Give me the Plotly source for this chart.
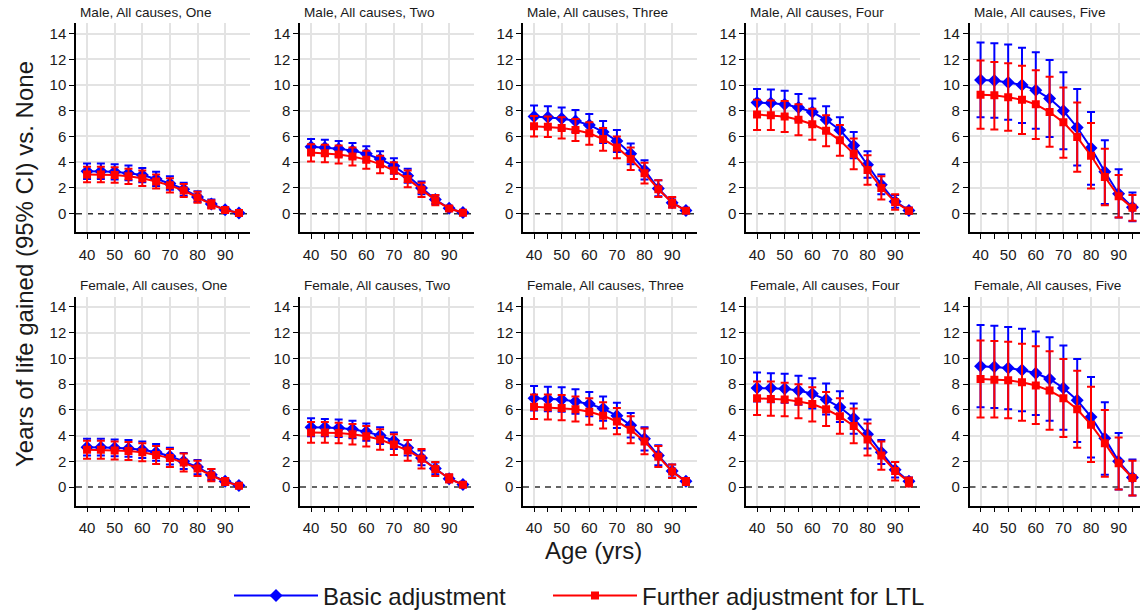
import plotly.graph_objects as go
from plotly.subplots import make_subplots

ages = [40, 45, 50, 55, 60, 65, 70, 75, 80, 85, 90, 95]
x_ticks = [40, 50, 60, 70, 80, 90]
y_ticks = [0, 2, 4, 6, 8, 10, 12, 14]
y_grid = [2, 4, 6, 8, 10, 12, 14]
panel_titles = [
    "Male, All causes, One", "Male, All causes, Two", "Male, All causes, Three",
    "Male, All causes, Four", "Male, All causes, Five",
    "Female, All causes, One", "Female, All causes, Two", "Female, All causes, Three",
    "Female, All causes, Four", "Female, All causes, Five",
]
series_names = ["Basic adjustment", "Further adjustment for LTL"]

# ---- Male ----
m1_basic = [3.3, 3.3, 3.25, 3.15, 3.0, 2.7, 2.35, 1.9, 1.3, 0.75, 0.3, 0.05]
m1_basic_lo = [2.7, 2.7, 2.65, 2.6, 2.45, 2.15, 1.85, 1.4, 0.9, 0.45, 0.15, 0.0]
m1_basic_hi = [3.9, 3.9, 3.85, 3.75, 3.55, 3.25, 2.9, 2.4, 1.75, 1.1, 0.5, 0.12]
m1_ltl = [3.05, 3.05, 3.0, 2.9, 2.75, 2.5, 2.2, 1.8, 1.25, 0.72, 0.28, 0.05]
m1_ltl_lo = [2.45, 2.45, 2.4, 2.3, 2.15, 1.95, 1.65, 1.3, 0.85, 0.4, 0.1, 0.0]
m1_ltl_hi = [3.65, 3.65, 3.6, 3.5, 3.35, 3.05, 2.75, 2.3, 1.7, 1.05, 0.45, 0.1]

m2_basic = [5.2, 5.15, 5.05, 4.9, 4.65, 4.25, 3.7, 2.95, 2.0, 1.1, 0.42, 0.08]
m2_basic_lo = [4.6, 4.55, 4.45, 4.3, 4.05, 3.65, 3.1, 2.4, 1.5, 0.75, 0.25, 0.02]
m2_basic_hi = [5.8, 5.75, 5.65, 5.5, 5.25, 4.85, 4.3, 3.5, 2.5, 1.45, 0.6, 0.15]
m2_ltl = [4.75, 4.7, 4.6, 4.45, 4.2, 3.85, 3.35, 2.7, 1.85, 1.05, 0.4, 0.07]
m2_ltl_lo = [4.05, 4.0, 3.9, 3.75, 3.5, 3.15, 2.7, 2.05, 1.3, 0.65, 0.2, 0.02]
m2_ltl_hi = [5.4, 5.35, 5.3, 5.15, 4.9, 4.5, 4.0, 3.35, 2.4, 1.45, 0.6, 0.12]

m3_basic = [7.55, 7.5, 7.4, 7.2, 6.9, 6.35, 5.65, 4.65, 3.4, 1.95, 0.85, 0.25]
m3_basic_lo = [6.7, 6.65, 6.55, 6.35, 6.05, 5.5, 4.8, 3.85, 2.65, 1.35, 0.5, 0.1]
m3_basic_hi = [8.4, 8.35, 8.25, 8.05, 7.75, 7.2, 6.5, 5.45, 4.15, 2.6, 1.25, 0.4]
m3_ltl = [6.8, 6.75, 6.65, 6.5, 6.25, 5.8, 5.15, 4.25, 3.15, 1.9, 0.85, 0.22]
m3_ltl_lo = [6.0, 5.95, 5.85, 5.65, 5.35, 4.9, 4.3, 3.4, 2.35, 1.3, 0.45, 0.08]
m3_ltl_hi = [7.6, 7.55, 7.5, 7.35, 7.1, 6.65, 6.0, 5.15, 3.95, 2.6, 1.3, 0.4]

m4_basic = [8.65, 8.6, 8.5, 8.25, 7.9, 7.3, 6.5, 5.3, 3.8, 2.25, 0.95, 0.25]
m4_basic_lo = [7.65, 7.6, 7.5, 7.25, 6.9, 6.3, 5.5, 4.3, 2.8, 1.5, 0.45, 0.05]
m4_basic_hi = [9.7, 9.65, 9.55, 9.3, 8.95, 8.35, 7.5, 6.35, 4.85, 3.05, 1.45, 0.45]
m4_ltl = [7.7, 7.65, 7.55, 7.3, 6.95, 6.45, 5.7, 4.65, 3.4, 2.0, 0.9, 0.22]
m4_ltl_lo = [6.5, 6.5, 6.35, 6.1, 5.75, 5.25, 4.5, 3.45, 2.25, 1.1, 0.3, 0.02]
m4_ltl_hi = [8.85, 8.8, 8.75, 8.5, 8.15, 7.65, 6.9, 5.85, 4.55, 2.9, 1.5, 0.45]

m5_basic = [10.4, 10.35, 10.2, 10.0, 9.6, 8.95, 8.0, 6.7, 5.1, 3.25, 1.55, 0.5]
m5_basic_lo = [7.5, 7.45, 7.3, 7.05, 6.6, 5.95, 5.0, 3.75, 2.25, 0.75, -0.3, -0.6]
m5_basic_hi = [13.3, 13.25, 13.15, 12.9, 12.55, 11.95, 11.0, 9.7, 7.9, 5.7, 3.45, 1.65]
m5_ltl = [9.25, 9.2, 9.05, 8.85, 8.5, 7.9, 7.1, 5.95, 4.5, 2.85, 1.35, 0.45]
m5_ltl_lo = [6.6, 6.55, 6.45, 6.2, 5.8, 5.2, 4.35, 3.25, 1.95, 0.65, -0.3, -0.55]
m5_ltl_hi = [11.9, 11.8, 11.7, 11.5, 11.15, 10.65, 9.8, 8.65, 7.05, 5.05, 3.0, 1.45]

# ---- Female ----
f1_basic = [3.1, 3.1, 3.05, 3.0, 2.9, 2.7, 2.4, 2.0, 1.55, 0.95, 0.45, 0.12]
f1_basic_lo = [2.45, 2.45, 2.4, 2.35, 2.25, 2.05, 1.75, 1.4, 1.0, 0.55, 0.2, 0.02]
f1_basic_hi = [3.75, 3.75, 3.7, 3.65, 3.55, 3.35, 3.05, 2.65, 2.1, 1.4, 0.7, 0.25]
f1_ltl = [2.9, 2.9, 2.85, 2.8, 2.7, 2.5, 2.25, 1.9, 1.45, 0.9, 0.42, 0.1]
f1_ltl_lo = [2.2, 2.2, 2.15, 2.1, 2.0, 1.8, 1.55, 1.2, 0.85, 0.45, 0.15, 0.0]
f1_ltl_hi = [3.6, 3.6, 3.55, 3.5, 3.4, 3.2, 2.95, 2.6, 2.05, 1.4, 0.7, 0.22]

f2_basic = [4.65, 4.65, 4.6, 4.5, 4.3, 4.0, 3.6, 3.05, 2.25, 1.45, 0.65, 0.2]
f2_basic_lo = [3.95, 3.95, 3.9, 3.8, 3.6, 3.35, 2.95, 2.45, 1.7, 1.0, 0.4, 0.05]
f2_basic_hi = [5.35, 5.3, 5.25, 5.15, 4.95, 4.65, 4.25, 3.65, 2.85, 1.9, 0.95, 0.35]
f2_ltl = [4.25, 4.25, 4.2, 4.1, 3.95, 3.7, 3.3, 2.85, 2.2, 1.4, 0.65, 0.18]
f2_ltl_lo = [3.45, 3.45, 3.4, 3.3, 3.15, 2.9, 2.5, 2.05, 1.45, 0.85, 0.35, 0.02]
f2_ltl_hi = [5.05, 5.05, 5.0, 4.9, 4.75, 4.5, 4.1, 3.65, 2.95, 1.95, 1.0, 0.35]

f3_basic = [6.9, 6.85, 6.8, 6.65, 6.45, 6.1, 5.55, 4.8, 3.75, 2.45, 1.25, 0.45]
f3_basic_lo = [5.95, 5.9, 5.85, 5.7, 5.5, 5.15, 4.6, 3.85, 2.85, 1.7, 0.75, 0.2]
f3_basic_hi = [7.85, 7.8, 7.75, 7.6, 7.4, 7.05, 6.55, 5.75, 4.65, 3.25, 1.75, 0.7]
f3_ltl = [6.25, 6.2, 6.15, 6.05, 5.85, 5.55, 5.1, 4.45, 3.55, 2.35, 1.2, 0.4]
f3_ltl_lo = [5.3, 5.25, 5.2, 5.1, 4.85, 4.55, 4.1, 3.4, 2.55, 1.55, 0.7, 0.15]
f3_ltl_hi = [7.2, 7.2, 7.15, 7.05, 6.9, 6.6, 6.15, 5.5, 4.55, 3.2, 1.75, 0.7]

f4_basic = [7.7, 7.7, 7.65, 7.5, 7.25, 6.8, 6.2, 5.35, 4.1, 2.7, 1.35, 0.45]
f4_basic_lo = [6.65, 6.6, 6.55, 6.4, 6.1, 5.65, 5.05, 4.15, 3.0, 1.8, 0.75, 0.15]
f4_basic_hi = [8.9, 8.85, 8.8, 8.65, 8.45, 8.05, 7.45, 6.5, 5.25, 3.65, 1.95, 0.75]
f4_ltl = [6.9, 6.85, 6.8, 6.65, 6.45, 6.05, 5.5, 4.75, 3.7, 2.45, 1.25, 0.4]
f4_ltl_lo = [5.6, 5.55, 5.5, 5.35, 5.1, 4.75, 4.15, 3.4, 2.45, 1.35, 0.5, 0.05]
f4_ltl_hi = [8.2, 8.2, 8.1, 8.0, 7.75, 7.4, 6.9, 6.1, 4.95, 3.55, 1.95, 0.75]

f5_basic = [9.4, 9.35, 9.25, 9.1, 8.85, 8.4, 7.7, 6.75, 5.45, 3.8, 2.0, 0.75]
f5_basic_lo = [6.2, 6.15, 6.05, 5.9, 5.6, 5.15, 4.45, 3.5, 2.3, 0.95, -0.2, -0.65]
f5_basic_hi = [12.6, 12.55, 12.45, 12.3, 12.1, 11.65, 11.0, 9.95, 8.55, 6.6, 4.2, 2.15]
f5_ltl = [8.4, 8.35, 8.3, 8.15, 7.9, 7.5, 6.9, 6.05, 4.85, 3.4, 1.85, 0.7]
f5_ltl_lo = [5.4, 5.4, 5.35, 5.15, 4.9, 4.45, 3.9, 3.05, 1.95, 0.8, -0.2, -0.65]
f5_ltl_hi = [11.4, 11.35, 11.3, 11.15, 10.95, 10.55, 9.95, 9.05, 7.8, 6.0, 3.85, 2.05]

panels = [
    (m1_basic, m1_basic_lo, m1_basic_hi, m1_ltl, m1_ltl_lo, m1_ltl_hi),
    (m2_basic, m2_basic_lo, m2_basic_hi, m2_ltl, m2_ltl_lo, m2_ltl_hi),
    (m3_basic, m3_basic_lo, m3_basic_hi, m3_ltl, m3_ltl_lo, m3_ltl_hi),
    (m4_basic, m4_basic_lo, m4_basic_hi, m4_ltl, m4_ltl_lo, m4_ltl_hi),
    (m5_basic, m5_basic_lo, m5_basic_hi, m5_ltl, m5_ltl_lo, m5_ltl_hi),
    (f1_basic, f1_basic_lo, f1_basic_hi, f1_ltl, f1_ltl_lo, f1_ltl_hi),
    (f2_basic, f2_basic_lo, f2_basic_hi, f2_ltl, f2_ltl_lo, f2_ltl_hi),
    (f3_basic, f3_basic_lo, f3_basic_hi, f3_ltl, f3_ltl_lo, f3_ltl_hi),
    (f4_basic, f4_basic_lo, f4_basic_hi, f4_ltl, f4_ltl_lo, f4_ltl_hi),
    (f5_basic, f5_basic_lo, f5_basic_hi, f5_ltl, f5_ltl_lo, f5_ltl_hi),
]

W, H = 1140, 614
FONT = "Arial, 'Liberation Sans', sans-serif"
BLUE = "#0000FF"
RED = "#FF0000"
TXT = "#1a1a1a"
GRID = "#e3e3e3"

# layout geometry (pixels)
col_left = [76, 300, 523, 746, 969.5]
panel_w = 174
row_top = [23.3, 296.7]
panel_h = 209
x_range = [36, 99]
y_range = [-1.45, 14.8]

fig = make_subplots(rows=2, cols=5)

for idx, (b, blo, bhi, r, rlo, rhi) in enumerate(panels):
    row = idx // 5 + 1
    col = idx % 5 + 1
    for vals, lo, hi, color, sym, msize, name, leg in [
        (b, blo, bhi, BLUE, "diamond", 10, series_names[0], "legend"),
        (r, rlo, rhi, RED, "square", 8, series_names[1], "legend2"),
    ]:
        fig.add_trace(go.Scatter(
            x=ages, y=vals, mode="lines+markers", name=name,
            line=dict(color=color, width=2),
            marker=dict(symbol=sym, size=msize, color=color),
            error_y=dict(type="data", symmetric=False,
                         array=[h - v for h, v in zip(hi, vals)],
                         arrayminus=[v - l for v, l in zip(vals, lo)],
                         color=color, thickness=2, width=4),
            showlegend=(idx == 0), legendgroup=name, legend=leg,
        ), row=row, col=col)

    n = idx + 1
    sfx = "" if n == 1 else str(n)
    x0 = col_left[col - 1]
    x1 = min(x0 + panel_w, W)
    xr = [x_range[0], x_range[0] + (x_range[1] - x_range[0]) * (x1 - x0) / panel_w]
    t = row_top[row - 1]
    fig.layout["xaxis" + sfx].update(
        domain=[x0 / W, x1 / W], range=xr,
        tickmode="array", tickvals=x_ticks, showgrid=True, gridcolor=GRID, gridwidth=1.5,
        showline=True, linecolor="black", linewidth=1.5, ticks="outside", ticklen=5,
        tickcolor="black", tickwidth=1.2, zeroline=False, ticklabelstandoff=3,
        minor=dict(dtick=5, tick0=40, ticks="outside", ticklen=5, tickcolor="black", tickwidth=1.2, showgrid=False),
        tickfont=dict(family=FONT, size=15, color=TXT),
    )
    fig.layout["yaxis" + sfx].update(
        domain=[1 - (t + panel_h) / H, 1 - t / H], range=y_range,
        tickmode="array", tickvals=y_ticks, showgrid=False,
        showline=True, linecolor="black", linewidth=1.5, ticks="outside", ticklen=5,
        tickcolor="black", tickwidth=1.2, zeroline=False,
        minor=dict(tickmode="array", tickvals=y_grid, ticks="", showgrid=True,
                   gridcolor=GRID, gridwidth=1.5),
        tickfont=dict(family=FONT, size=15, color=TXT),
    )
    fig.add_shape(type="line", xref=f"x{sfx} domain", x0=0, x1=1, yref=f"y{sfx}", y0=0, y1=0,
                  line=dict(color="#333333", width=1.5, dash="6px,5px"), layer="below")
    fig.add_annotation(text=panel_titles[idx], xref="paper", yref="paper",
                       x=(x0 + 2) / W, y=1 - (t - 11) / H, xanchor="left", yanchor="middle",
                       showarrow=False, font=dict(family=FONT, size=13.6, color=TXT))

fig.add_annotation(text="Years of life gained (95% CI) vs. None", xref="paper", yref="paper",
                   x=24 / W, y=1 - 264 / H, textangle=-90, showarrow=False,
                   xanchor="center", yanchor="middle", font=dict(family=FONT, size=24, color=TXT))
fig.add_annotation(text="Age (yrs)", xref="paper", yref="paper",
                   x=593 / W, y=1 - 550 / H, showarrow=False,
                   xanchor="center", yanchor="middle", font=dict(family=FONT, size=24, color=TXT))

legend_common = dict(orientation="h", yanchor="middle", xanchor="left",
                     font=dict(family=FONT, size=24, color=TXT), itemwidth=84,
                     bgcolor="rgba(0,0,0,0)")
fig.update_layout(
    width=W, height=H, margin=dict(l=0, r=0, t=0, b=0, autoexpand=False),
    paper_bgcolor="white", plot_bgcolor="white",
    showlegend=True,
    legend=dict(x=229 / W, y=1 - 596 / H, **legend_common),
    legend2=dict(x=548 / W, y=1 - 596 / H, **legend_common),
)

fig.write_html("out.html", config={"displayModeBar": False},
               post_script="document.body.style.margin='0px';")
